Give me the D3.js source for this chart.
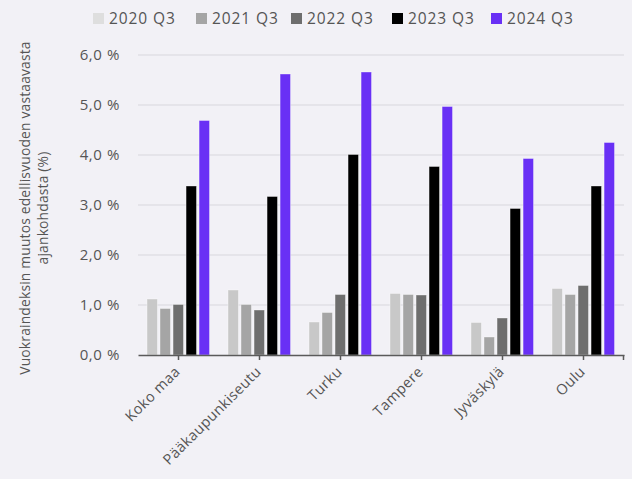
<!DOCTYPE html>
<html><head><meta charset="utf-8">
<script src="https://cdn.jsdelivr.net/npm/d3@7/dist/d3.min.js"></script>
<style>
html,body{margin:0;padding:0;background:#f2f1f6;}
svg{display:block;}
text{font-family:"Open Sans","Noto Sans",sans-serif;fill:#555;}
</style></head><body>
<svg id="c" width="632" height="479"></svg>
<script>
const categories = ["Koko maa","Pääkaupunkiseutu","Turku","Tampere","Jyväskylä","Oulu"];
const seriesNames = ["2020 Q3","2021 Q3","2022 Q3","2023 Q3","2024 Q3"];
const seriesColors = ["#c8c8c8","#a5a5a5","#6e6e6e","#000000","#6930f5"];
const legendColors = ["#dedede","#a5a5a5","#6e6e6e","#000000","#6930f5"];
const v2020 = [1.12,1.30,0.66,1.23,0.65,1.33];
const v2021 = [0.93,1.01,0.85,1.21,0.36,1.21];
const v2022 = [1.01,0.90,1.21,1.20,0.74,1.39];
const v2023 = [3.38,3.17,4.01,3.77,2.93,3.38];
const v2024 = [4.69,5.62,5.66,4.97,3.93,4.25];
const yTicks = [0,1,2,3,4,5,6];
const yTitle = ["Vuokraindeksin muutos edellisvuoden vastaavasta","ajankohdasta (%)"];

const series = [v2020,v2021,v2022,v2023,v2024];
const svg = d3.select("#c");
const x0 = d3.scaleBand().domain(categories).range([138,624]).paddingInner(0).paddingOuter(0);
const x1 = d3.scaleBand().domain(seriesNames).range([9,71.5]).paddingInner(0.2).paddingOuter(0);
const y = d3.scaleLinear().domain([0,6]).range([355,55]);
const fmt = v => d3.format(".1f")(v).replace(".", ",") + " %";

// gridlines
svg.append("g").selectAll("line").data(yTicks.filter(d=>d>0)).join("line")
  .attr("x1",138).attr("x2",624).attr("y1",d=>y(d)).attr("y2",d=>y(d))
  .attr("stroke","#d8d7dd").attr("stroke-width",1);

// y labels
svg.append("g").selectAll("text").data(yTicks).join("text")
  .attr("x",120).attr("y",d=>y(d)).attr("dy","0.35em").attr("text-anchor","end")
  .style("font-size","15px").style("letter-spacing","0.6px").text(fmt);

// bars
const g = svg.append("g");
categories.forEach((c,ci)=>{
  seriesNames.forEach((s,si)=>{
    const v = series[si][ci];
    g.append("rect")
      .attr("x", x0(c)+x1(s)).attr("width", x1.bandwidth())
      .attr("y", y(v)).attr("height", y(0)-y(v))
      .attr("fill", seriesColors[si])
      .attr("stroke","rgba(255,255,255,0.45)").attr("stroke-width",0.8);
  });
});

// x axis
const ax = svg.append("g").attr("transform","translate(0,355)")
  .call(d3.axisBottom(x0).tickSize(5).tickSizeOuter(0).tickFormat(""));
ax.select(".domain").attr("stroke","#5a5a5a").attr("stroke-width",1.5);
ax.selectAll(".tick line").attr("stroke","#5a5a5a").attr("stroke-width",1.5);
svg.append("line").attr("x1",623.5).attr("x2",623.5).attr("y1",355).attr("y2",360)
  .attr("stroke","#5a5a5a").attr("stroke-width",1.5);

// x labels
svg.append("g").selectAll("text").data(categories).join("text")
  .attr("transform",d=>`translate(${x0(d)+x0.bandwidth()/2-1},${369}) rotate(-45)`)
  .attr("text-anchor","end").attr("dy","0.35em")
  .style("font-size","14.5px").style("letter-spacing","0.4px").text(d=>d);

// y title
const yt = svg.append("text").attr("transform","translate(25,208) rotate(-90)")
  .attr("text-anchor","middle").style("font-size","13.8px").style("letter-spacing","0.2px");
yTitle.forEach((t,i)=>yt.append("tspan").attr("x",0).attr("dy", i===0 ? "0.35em" : "1.3em").text(t));

// legend
const legX = [93,196,291,392,491];
const lg = svg.append("g");
seriesNames.forEach((s,i)=>{
  lg.append("rect").attr("x",legX[i]).attr("y",13).attr("width",11).attr("height",11).attr("fill",legendColors[i]);
  lg.append("text").attr("x",legX[i]+16).attr("y",19).attr("dy","0.35em")
    .style("font-size","15.5px").style("letter-spacing","0.9px").text(s);
});
</script>
</body></html>
